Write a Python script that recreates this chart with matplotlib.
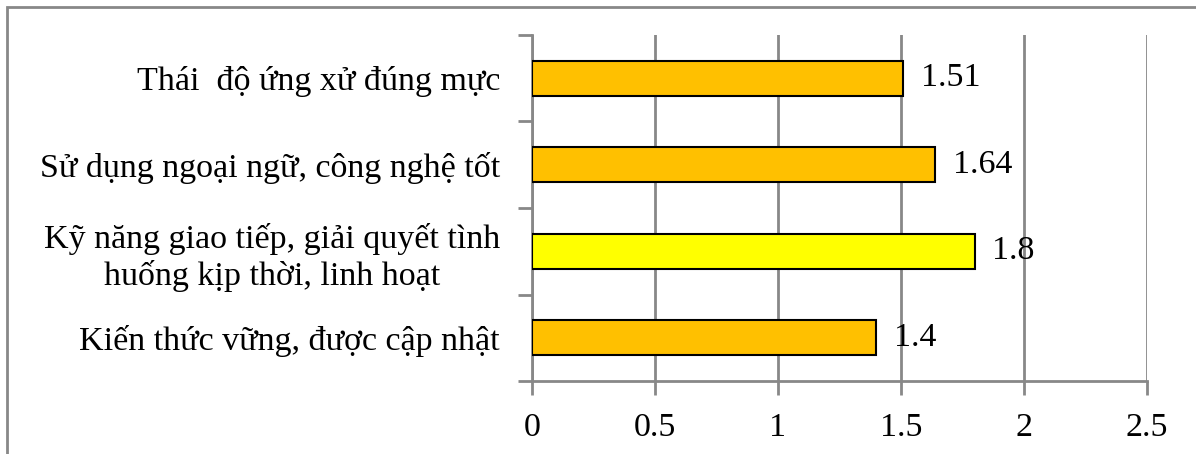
import matplotlib
matplotlib.use("Agg")
import matplotlib.pyplot as plt
from matplotlib.patches import Rectangle

categories = ["Kiến thức vững, được cập nhật",
              "Kỹ năng giao tiếp, giải quyết tình\nhuống kịp thời, linh hoạt",
              "Sử dụng ngoại ngữ, công nghệ tốt",
              "Thái  độ ứng xử đúng mực"]
values = [1.4, 1.8, 1.64, 1.51]
value_labels = ["1.4", "1.8", "1.64", "1.51"]
colors = ["#FFC000", "#FFFF00", "#FFC000", "#FFC000"]
xticks = [0, 0.5, 1, 1.5, 2, 2.5]
xticklabels = ["0", "0.5", "1", "1.5", "2", "2.5"]

plt.rcParams['font.family'] = ['Liberation Serif', 'DejaVu Serif']
fs = 24.5

W, H = 1196, 454
fig = plt.figure(figsize=(W/100, H/100), dpi=100)
ax = fig.add_axes([532/W, 1-381/H, (1147-532)/W, (381-35)/H])

y = list(range(len(categories)))
ax.barh(y, values, height=0.4, color=colors, edgecolor="black", linewidth=1.5, zorder=3)
for yi, v, lab in zip(y, values, value_labels):
    ax.text(v + 0.07, yi, lab, va="center", ha="left", fontsize=fs, zorder=4)

ax.set_xlim(0, 2.5)
ax.set_ylim(-0.5, len(categories) - 0.5)
ax.set_xticks(xticks)
ax.set_xticklabels(xticklabels, fontsize=fs)
ax.set_yticks(y)
ax.set_yticklabels(categories, fontsize=fs, ha="right", multialignment="center")
ax.set_yticks([i - 0.5 for i in range(len(categories) + 1)], minor=True)
ax.tick_params(axis="y", which="major", length=0, pad=23)
ax.tick_params(axis="y", which="minor", length=10, color="#888888", width=2)
ax.tick_params(axis="x", which="major", length=10, color="#888888", width=2, pad=13)
ax.xaxis.grid(True, color="#888888", linewidth=2, zorder=0)
for s in ["top", "right"]:
    ax.spines[s].set_visible(False)
for s in ["left", "bottom"]:
    ax.spines[s].set_color("#888888")
    ax.spines[s].set_linewidth(2)

fig.patches.append(Rectangle((7/W, -0.1), 1.2, 1 + 0.1 - 7/H, transform=fig.transFigure,
                             fill=False, edgecolor="#888888", linewidth=2))
fig.savefig("out.png", dpi=100)
